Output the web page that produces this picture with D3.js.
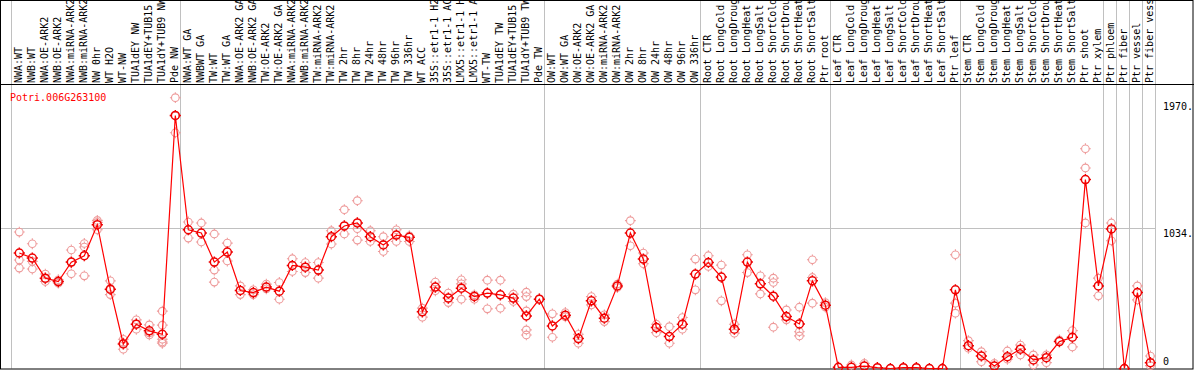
<!DOCTYPE html>
<html>
<head>
<meta charset="utf-8">
<script src="https://cdn.jsdelivr.net/npm/d3@7"></script>
<style>
  html, body { margin: 0; padding: 0; background: #fff; }
  svg { display: block; }
  text { font-family: "DejaVu Sans Mono", monospace; font-size: 10px; }
</style>
</head>
<body>
<svg id="chart" width="1194" height="370"></svg>
<script>
const geneName = 'Potri.006G263100';

const labels = [
  'NWA:WT', 'NWB:WT', 'NWA:OE-ARK2', 'NWB:OE-ARK2', 'NWA:miRNA-ARK2', 'NWB:miRNA-ARK2',
  'NW 0hr', 'WT H2O', 'WT-NW', 'TUA1dEY NW', 'TUA1dEY+TUB15 NW', 'TUA1dY+TUB9 NW', 'Pde NW',
  'NWA:WT GA', 'NWBWT GA', 'TW:WT', 'TW:WT GA', 'NWA:OE-ARK2 GA', 'NWB:OE-ARK2 GA',
  'TW:OE-ARK2', 'TW:OE-ARK2 GA', 'NWA:miRNA-ARK2', 'NWB:miRNA-ARK2', 'TW:miRNA-ARK2', 'TW:miRNA-ARK2',
  'TW 2hr', 'TW 8hr', 'TW 24hr', 'TW 48hr', 'TW 96hr', 'TW 336hr', 'WT ACC',
  '35S::etr1-1 H2O', '35S::etr1-1 ACC', 'LMX5::etr1-1 H2O', 'LMX5::etr1-1 ACC',
  'WT-TW', 'TUA1dEY TW', 'TUA1dEY+TUB15 TW', 'TUA1dY+TUB9 TW', 'Pde TW',
  'OW:WT', 'OW:WT GA', 'OW:OE-ARK2', 'OW:OE-ARK2 GA', 'OW:miRNA-ARK2', 'OW:miRNA-ARK2',
  'OW 2hr', 'OW 8hr', 'OW 24hr', 'OW 48hr', 'OW 96hr', 'OW 336hr',
  'Root CTR', 'Root LongCold', 'Root LongDrought', 'Root LongHeat', 'Root LongSalt',
  'Root ShortCold', 'Root ShortDrought', 'Root ShortHeat', 'Root ShortSalt', 'Ptr root',
  'Leaf CTR', 'Leaf LongCold', 'Leaf LongDrought', 'Leaf LongHeat', 'Leaf LongSalt',
  'Leaf ShortCold', 'Leaf ShortDrought', 'Leaf ShortHeat', 'Leaf ShortSalt', 'Ptr leaf',
  'Stem CTR', 'Stem LongCold', 'Stem LongDrought', 'Stem LongHeat', 'Stem LongSalt',
  'Stem ShortCold', 'Stem ShortDrought', 'Stem ShortHeat', 'Stem ShortSalt', 'Ptr shoot',
  'Ptr xylem', 'Ptr phloem', 'Ptr fiber', 'Ptr vessel', 'Ptr fiber vessel'
];

const means = [
  850, 813, 665, 640, 783, 830, 1058, 584, 181, 326, 277, 252, 1862,
  1021, 997, 783, 857, 574, 559, 599, 569, 758, 746, 724, 970,
  1049, 1071, 970, 909, 982, 965, 417, 599, 518, 591, 530,
  555, 542, 518, 387, 510,
  313, 392, 220, 498, 370, 608, 997, 805, 301, 235, 326, 695,
  780, 673, 289, 783, 623, 532, 382, 328, 645, 466,
  9, 9, 18, 6, 0, 6, 6, 0, 0, 579,
  168, 92, 18, 87, 142, 63, 80, 198, 230, 1390,
  608, 1027, 0, 559, 43
];

const replicates = [
  [1004, 798, 739], [918, 788, 732], [695, 640, 660], [653, 628, 640],
  [872, 697, 781], [920, 894, 682], [1090, 1075, 1021], [645, 544, 579],
  [215, 142, 188], [358, 289, 328], [321, 247, 262], [422, 319, 215, 195, 186],
  [1993, 1735, 1858],
  [1078, 960], [1071, 931], [990, 724, 636], [923, 791], [608, 544], [579, 544],
  [621, 586], [633, 510], [808, 714], [780, 706], [780, 665], [1014, 916],
  [1169, 990], [1235, 1029, 945], [1014, 935], [970, 861], [1021, 935], [977, 935],
  [444, 378], [636, 572], [555, 485], [653, 623, 510], [542, 510],
  [650, 439], [650, 444], [547, 493], [562, 529, 424, 284, 247], [512],
  [402, 230], [412, 380], [252, 186], [529, 468], [395, 345], [621, 596],
  [1088, 903], [850, 771], [326, 264], [308, 186], [375, 289], [805, 579],
  [830, 751], [761, 498], [326, 260], [837, 706], [682, 549],
  [665, 633, 304], [431, 358], [451, 271, 240], [800, 670, 481], [485, 451],
  [9], [26], [38], [6], [0], [6], [6], [0], [0], [837, 481, 407],
  [205, 149], [124, 50], [38], [129, 68], [173, 100], [100, 26], [100, 43],
  [210], [279, 159], [1617, 1476, 1071],
  [665, 535], [1071, 940], [0], [608, 505], [92, 21]
];

// index of the last column in each group; -1 marks the left edge
const groupEnds = [-1, 12, 40, 52, 62, 72, 83, 84, 85, 86, 87];

const yTicks = [0, 1034, 1970];
const yTickLabels = ['0', '1034.', '1970.'];

const W = 1194, H = 370;
const plotTop = 84.5, plotBottom = 368.5, plotRight = 1155.5;

const svg = d3.select('#chart');

const x = d3.scaleLinear().domain([0, labels.length - 1]).range([19.3, 1150.4]);
const y = d3.scaleLinear().domain([0, 2090]).range([plotBottom, plotTop]);

// group separators
svg.append('g')
  .selectAll('line')
  .data(groupEnds)
  .join('line')
  .attr('x1', d => Math.round(x(d) + 5) + 0.5)
  .attr('x2', d => Math.round(x(d) + 5) + 0.5)
  .attr('y1', 0)
  .attr('y2', plotBottom)
  .attr('stroke', '#c0c0c0')
  .attr('stroke-width', 1);

// horizontal grid at the middle tick
svg.append('line')
  .attr('x1', 1)
  .attr('x2', plotRight)
  .attr('y1', Math.round(y(1034)) + 0.5)
  .attr('y2', Math.round(y(1034)) + 0.5)
  .attr('stroke', '#c0c0c0');

// column labels
svg.append('g')
  .selectAll('text')
  .data(labels)
  .join('text')
  .attr('transform', (d, i) => `translate(${x(i) + 2.6},83) rotate(-90)`)
  .attr('fill', '#000')
  .text(d => d);

// frame
svg.append('rect')
  .attr('x', 0.5).attr('y', 0.5)
  .attr('width', W - 1.5).attr('height', plotBottom)
  .attr('fill', 'none')
  .attr('stroke', '#000');
svg.append('line')
  .attr('x1', 0).attr('x2', W)
  .attr('y1', plotTop).attr('y2', plotTop)
  .attr('stroke', '#000');

// y labels on the right
svg.append('g')
  .selectAll('text')
  .data(yTicks)
  .join('text')
  .attr('x', 1163)
  .attr('y', d => d === 0 ? y(d) - 3.5 : y(d) + 9)
  .attr('fill', '#000')
  .text((d, i) => yTickLabels[i]);

svg.append('text')
  .attr('x', 10)
  .attr('y', 101)
  .attr('fill', '#ff0000')
  .text(geneName);

const marker = r => {
  const t = r + 1.6;
  return `M${r},0A${r},${r},0,1,1,${-r},0A${r},${r},0,1,1,${r},0` +
    `M0,${-r}L0,${-t}M0,${r}L0,${t}M${-r},0L${-t},0M${r},0L${t},0`;
};

// replicate points
const repPts = replicates.flatMap((vals, i) => vals.map(v => ({ i, v })));
svg.append('g')
  .selectAll('path')
  .data(repPts)
  .join('path')
  .attr('transform', d => `translate(${x(d.i)},${y(d.v)})`)
  .attr('d', marker(3.8))
  .attr('fill', 'none')
  .attr('stroke', '#ee9a9a')
  .attr('stroke-width', 1.1);

// mean line
const line = d3.line().x((d, i) => x(i)).y(d => y(d));
svg.append('path')
  .datum(means)
  .attr('d', line)
  .attr('fill', 'none')
  .attr('stroke', '#ff0000')
  .attr('stroke-width', 1.2);

svg.append('g')
  .selectAll('path')
  .data(means)
  .join('path')
  .attr('transform', (d, i) => `translate(${x(i)},${y(d)})`)
  .attr('d', marker(4))
  .attr('fill', 'none')
  .attr('stroke', '#ee0000')
  .attr('stroke-width', 1.5);
</script>
</body>
</html>
